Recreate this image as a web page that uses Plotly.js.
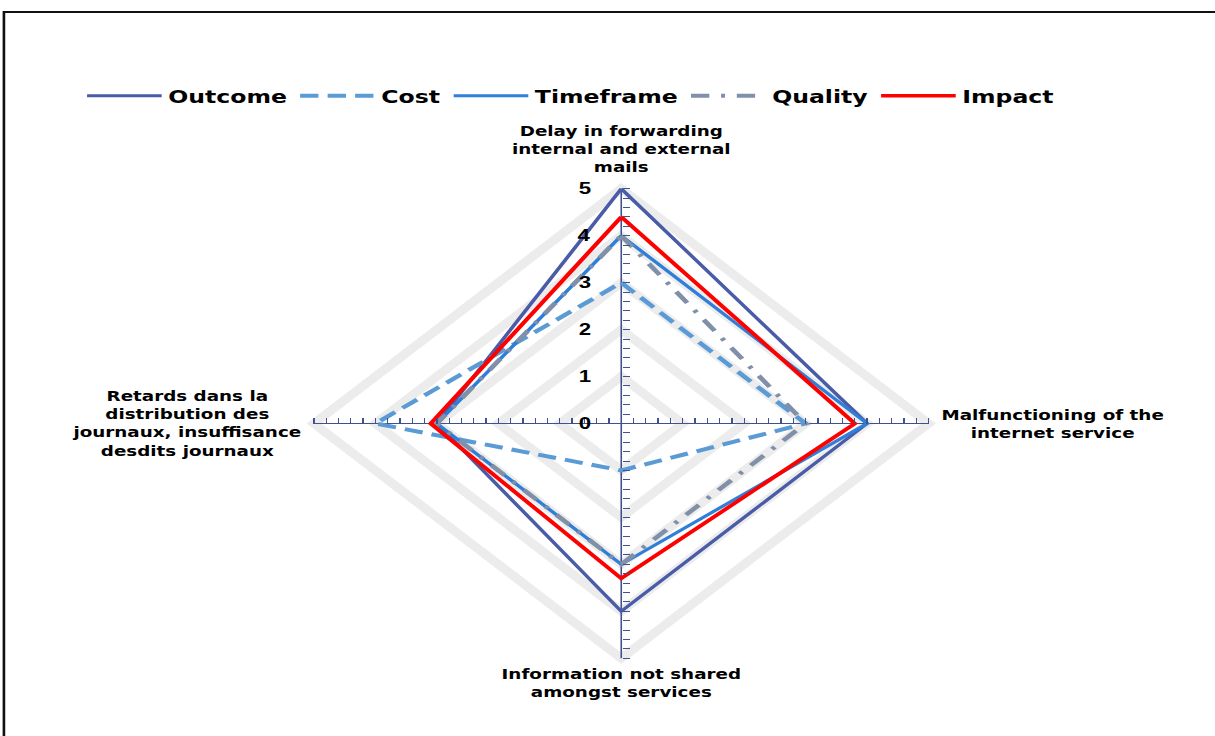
<!DOCTYPE html>
<html>
<head>
<meta charset="utf-8">
<script src="https://cdn.plot.ly/plotly-3.0.1.min.js"></script>
<style>
  html, body { margin: 0; padding: 0; background: #fff; overflow: hidden; }
  #chart { width: 928px; height: 736px; transform-origin: 0 0; }
</style>
</head>
<body>
<div id="chart"></div>
<script>
// Risk dimensions, clockwise from the top spoke
const categories = [
  'Delay in forwarding<br>internal and external<br>mails',
  'Malfunctioning of the<br>internet service',
  'Information not shared<br>amongst services',
  'Retards dans la<br>distribution des<br>journaux, insuffisance<br>desdits journaux'
];

// Scores per series, same order as categories
const outcome   = [5, 4, 4, 3];
const cost      = [3, 3, 1, 4];
const timeframe = [4, 4, 3, 3];
const quality   = [4, 3, 3, 3];
const impact    = [4.4, 3.8, 3.3, 3.1];

const seriesNames = ['Outcome', 'Cost', 'Timeframe', 'Quality', 'Impact'];
const radialLevels = [1, 2, 3, 4, 5];
const radialTickLabels = ['0', '1', '2', '3', '4', '5'];

// Layout geometry (the drawing is widened horizontally by STRETCH)
const W = 928, H = 736, STRETCH = 1215 / 928;
const ML = 221, MR = 100, MT = 170, MB = 59;
const PW = W - ML - MR, PH = H - MT - MB;
const RMAX = 5, RANGE = 5.4;
const UNIT = PH / (2 * RANGE);          // px per score unit (same on both axes)
const XMAX = -RANGE + PW / UNIT;        // extra room on the right for the legend
const AXIS = '#41508f';

document.getElementById('chart').style.transform = 'scaleX(' + STRETCH + ')';

// spoke angle for category i (clockwise from the top)
function spoke(i) { return i * Math.PI * 2 / categories.length; }
function toXY(values) {
  const x = [], y = [];
  values.forEach(function (v, i) {
    x.push(Math.round(v * Math.sin(spoke(i)) * 1e6) / 1e6);
    y.push(Math.round(v * Math.cos(spoke(i)) * 1e6) / 1e6);
  });
  x.push(x[0]); y.push(y[0]);
  return { x: x, y: y };
}

const styles = [
  { color: '#4a5ba7', width: 3,   dash: 'solid' },
  { color: '#5b9bd5', width: 4,   dash: '14px,7px' },
  { color: '#2f7fd8', width: 3,   dash: 'solid' },
  { color: '#8090a9', width: 4,   dash: '14px,9px,3px,9px' },
  { color: '#ff0000', width: 3.5, dash: 'solid' }
];

const allSeries = [outcome, cost, timeframe, quality, impact];
const traces = allSeries.map(function (vals, k) {
  const p = toXY(vals);
  return {
    type: 'scatter', mode: 'lines', name: seriesNames[k],
    x: p.x, y: p.y,
    line: { color: styles[k].color, width: styles[k].width, dash: styles[k].dash },
    hoverinfo: 'skip'
  };
});

// minor ticks every 0.2 along each spoke
const tickVals = [];
for (let k = -RMAX * 5; k <= RMAX * 5; k++) tickVals.push(k / 5);

const shapes = [];
// light gray polygon gridlines
radialLevels.forEach(function (r) {
  const p = toXY(categories.map(function () { return r; }));
  let d = 'M' + p.x[0] + ',' + p.y[0];
  for (let i = 1; i < p.x.length; i++) d += ' L' + p.x[i] + ',' + p.y[i];
  shapes.push({ type: 'path', xref: 'x', yref: 'y', path: d + ' Z',
    line: { color: '#ececec', width: 8 }, layer: 'below' });
});
// spokes
shapes.push({ type: 'line', xref: 'x', yref: 'y', x0: -RMAX, y0: 0, x1: RMAX, y1: 0,
  line: { color: AXIS, width: 1.2 }, layer: 'below' });
shapes.push({ type: 'line', xref: 'x', yref: 'y', x0: 0, y0: -RMAX, x1: 0, y1: RMAX,
  line: { color: AXIS, width: 1.2 }, layer: 'below' });
// outer frame
shapes.push({ type: 'rect', xref: 'paper', yref: 'paper',
  x0: (3 - ML) / PW, x1: 2.5, y0: -0.5, y1: 1 + (MT - 12) / PH,
  line: { color: '#111', width: 2 }, fillcolor: 'rgba(0,0,0,0)' });

const annotations = [];
const labelFont = { family: 'DejaVu Sans', size: 14, color: '#000', weight: 'bold' };
const anchors = [
  { xanchor: 'center', yanchor: 'bottom', xshift: 0,   yshift: 12 },
  { xanchor: 'left',   yanchor: 'middle', xshift: 8,   yshift: 0 },
  { xanchor: 'center', yanchor: 'top',    xshift: 0,   yshift: -6 },
  { xanchor: 'right',  yanchor: 'middle', xshift: -8,  yshift: 0 }
];
categories.forEach(function (c, i) {
  const p = toXY(categories.map(function () { return RMAX; }));
  annotations.push(Object.assign({
    x: p.x[i], y: p.y[i], xref: 'x', yref: 'y', text: c, showarrow: false,
    align: 'center', font: labelFont
  }, anchors[i]));
});
radialTickLabels.forEach(function (t, k) {
  annotations.push({
    x: 0, y: k, xref: 'x', yref: 'y', text: t, showarrow: false,
    xanchor: 'right', yanchor: 'middle', xshift: -22,
    font: { family: 'Liberation Sans', size: 17, color: '#000', weight: 'bold' }
  });
});

const axisCommon = {
  anchor: 'free', ticks: 'outside', ticklen: 6, tickwidth: 1, tickcolor: AXIS,
  tickmode: 'array', tickvals: tickVals, showticklabels: false,
  showgrid: false, zeroline: false, showline: false, fixedrange: true
};

const layout = {
  width: W, height: H,
  margin: { l: ML, r: MR, t: MT, b: MB },
  paper_bgcolor: '#fff', plot_bgcolor: 'rgba(0,0,0,0)',
  xaxis: Object.assign({ side: 'top', range: [-RANGE, XMAX], position: 0.5 }, axisCommon),
  yaxis: Object.assign({ side: 'right', range: [-RANGE, RANGE],
    position: RANGE / (RANGE + XMAX) }, axisCommon),
  showlegend: true,
  legend: {
    orientation: 'h', x: (61.5 - ML) / PW, y: 1 + (MT - 96) / PH,
    xanchor: 'left', yanchor: 'middle', itemwidth: 57,
    font: { family: 'DejaVu Sans', size: 18, color: '#000', weight: 'bold' },
    bgcolor: 'rgba(0,0,0,0)', itemclick: false, itemdoubleclick: false
  },
  shapes: shapes,
  annotations: annotations
};

Plotly.newPlot('chart', traces, layout, { displayModeBar: false, staticPlot: true });
</script>
</body>
</html>
